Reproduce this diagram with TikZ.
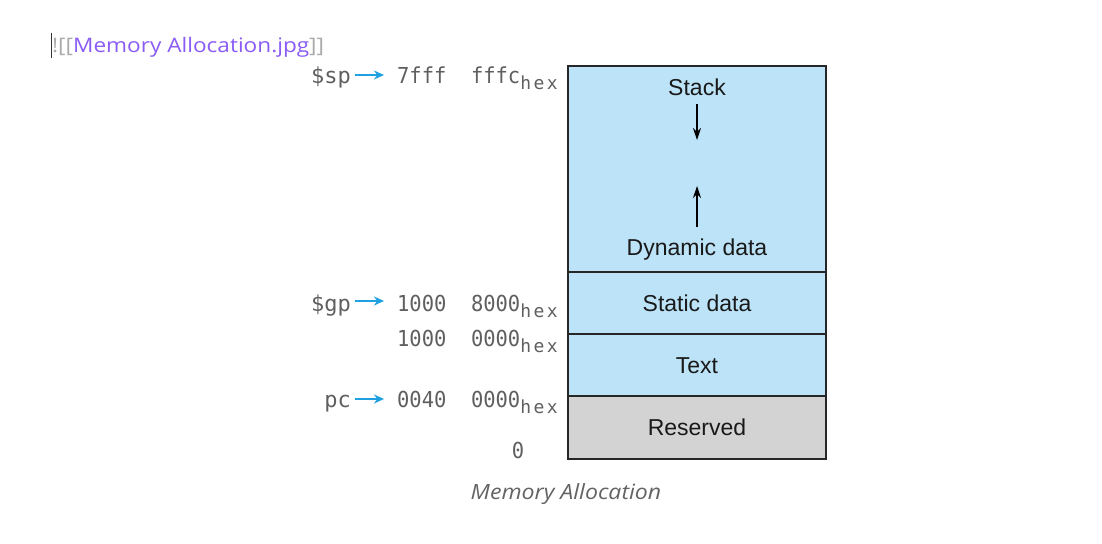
\documentclass[tikz,border=0pt]{standalone}
\usepackage{fontspec}
\setmainfont{Liberation Sans}
\newfontfamily\monof{DejaVu Sans Mono}
\newfontfamily\uif{Open Sans}
\usetikzlibrary{arrows.meta}
\definecolor{segblue}{RGB}{189,227,248}
\definecolor{seggray}{RGB}{211,211,211}
\definecolor{addrgray}{RGB}{95,95,95}
\definecolor{ptrblue}{RGB}{30,160,225}
\definecolor{linkpurple}{RGB}{138,92,245}
\definecolor{bracketgray}{RGB}{170,170,170}
\definecolor{capgray}{RGB}{100,100,100}
\newcommand{\hexsub}{\raisebox{-6pt}{\fontsize{18}{20}\selectfont h\kern2.5pt e\kern2.5pt x}}
\newcommand{\mono}[1]{\scalebox{0.93}[1]{#1}}
\begin{document}
\begin{tikzpicture}[x=1pt,y=-1pt,
  seg/.style={draw=black!85, line width=1.3pt, inner sep=0pt, minimum width=258pt, fill=segblue},
  segtext/.style={font=\fontsize{23}{27}\selectfont, text=black!90, inner sep=0pt, anchor=base},
  addr/.style={font=\monof\fontsize{22}{26}\selectfont, text=addrgray, inner sep=0pt, anchor=base east},
  ptr/.style={draw=ptrblue, line width=1.5pt, -{Stealth[length=10pt,width=9pt]}},
  growarrow/.style={draw=black, line width=1.2pt, -{Stealth[length=12pt,width=8pt]}}]
\useasboundingbox[fill=white] (0,0) rectangle (1102,543);

% header line
\draw[black!80, line width=1pt] (51,33) -- (51,58);
\node[anchor=west, inner sep=0pt, font=\uif\fontsize{20}{24}\selectfont] (hdr) at (52,47)
  {\scalebox{1.13}[1]{\textcolor{bracketgray}{![[}\textcolor{linkpurple}{Memory Allocation.jpg}\textcolor{bracketgray}{]]}}};

% memory segments
\node[seg, minimum height=206pt] (stackseg) at (697,169) {};
\node[seg, minimum height=62pt] (staticseg) at (697,303) {};
\node[seg, minimum height=62pt] (textseg) at (697,365) {};
\node[seg, minimum height=63pt, fill=seggray] (resseg) at (697,427.5) {};

\node[segtext] (stacklbl) at (697,95) {Stack};
\node[segtext] (dynlbl) at (697,255) {Dynamic data};
\node[segtext] (staticlbl) at (697,311) {Static data};
\node[segtext] (textlbl) at (697,373) {Text};
\node[segtext] (reslbl) at (697,435) {Reserved};

\coordinate (downA) at (697,104);
\coordinate (downB) at (697,140);
\coordinate (upA) at (697,227);
\coordinate (upB) at (697,186);
\draw[growarrow] (downA) -- (downB);
\draw[growarrow] (upA) -- (upB);

% addresses
\node[addr] (spaddr) at (558,83) {\mono{7fff\ \ fffc}\hexsub};
\node[addr] (gpaddr) at (558,311) {\mono{1000\ \ 8000}\hexsub};
\node[addr] (txtaddr) at (558,346) {\mono{1000\ \ 0000}\hexsub};
\node[addr] (pcaddr) at (558,407) {\mono{0040\ \ 0000}\hexsub};
\node[addr, anchor=base] (zeroaddr) at (518,458) {\mono{0}};

% pointers
\node[addr] (splbl) at (351,83) {\$sp};
\node[addr] (gplbl) at (351,311) {\$gp};
\node[addr] (pclbl) at (351,407) {pc};

\coordinate (spA) at (355,75);
\coordinate (spB) at (384,75);
\coordinate (gpA) at (355,301);
\coordinate (gpB) at (384,301);
\coordinate (pcA) at (355,399);
\coordinate (pcB) at (384,399);
\draw[ptr] (spA) -- (spB);
\draw[ptr] (gpA) -- (gpB);
\draw[ptr] (pcA) -- (pcB);

% caption
\node[inner sep=0pt, font=\uif\itshape\fontsize{21}{25}\selectfont, text=capgray] (caption) at (566,494) {\scalebox{1.1}[1]{Memory Allocation}};
\end{tikzpicture}
\end{document}
